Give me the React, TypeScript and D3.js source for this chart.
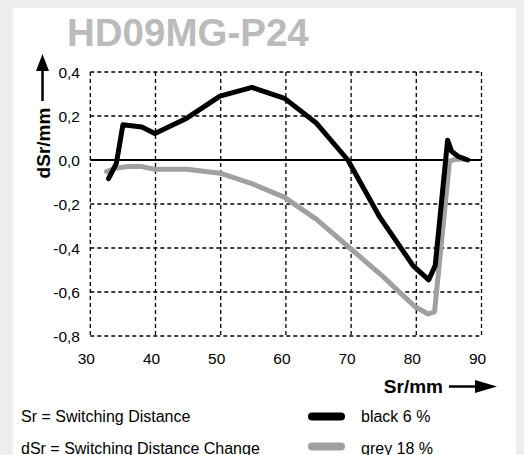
import React from "react";
import * as d3 from "d3";

const xTicks = [30, 40, 50, 60, 70, 80, 90];
const yTicks = [0.4, 0.2, 0.0, -0.2, -0.4, -0.6, -0.8];
const yTickLabels = ["0,4", "0,2", "0,0", "-0,2", "-0,4", "-0,6", "-0,8"];

const blackX = [32.8, 34.0, 35.0, 37.9, 39.9, 44.8, 49.9, 54.8, 59.8, 64.7, 69.5, 74.4, 79.5, 81.9, 82.9, 84.8, 85.4, 86.5, 87.9];
const blackY = [-0.085, -0.015, 0.16, 0.15, 0.12, 0.19, 0.29, 0.33, 0.28, 0.167, 0.0, -0.26, -0.48, -0.545, -0.48, 0.09, 0.04, 0.015, 0.0];

const greyX = [32.5, 33.8, 35.8, 37.9, 39.9, 44.8, 49.9, 55.0, 59.8, 64.7, 69.8, 74.9, 79.8, 81.8, 82.8, 85.1, 86.0, 87.5];
const greyY = [-0.053, -0.038, -0.03, -0.03, -0.042, -0.042, -0.06, -0.11, -0.17, -0.27, -0.4, -0.53, -0.667, -0.7, -0.69, -0.005, 0.003, 0.003];

const legendLeft = ["Sr = Switching Distance", "dSr = Switching Distance Change"];
const legendRight = ["black 6 %", "grey 18 %"];
const seriesColors = ["#000000", "#a0a0a0"];

const FONT = "'Liberation Sans', Arial, Helvetica, sans-serif";

export default function App() {
  const W = 524, H = 455;
  const x = d3.scaleLinear().domain([30, 90]).range([90.3, 481.5]);
  const y = d3.scaleLinear().domain([-0.8, 0.4]).range([336, 72]);

  const toPts = (xs: number[], ys: number[]) => xs.map((v, i) => [v, ys[i]] as [number, number]);
  const line = d3.line<[number, number]>().x(d => x(d[0])).y(d => y(d[1]));

  const series = [toPts(greyX, greyY), toPts(blackX, blackY)];
  const colors = [seriesColors[1], seriesColors[0]];

  const dash = "4,3";

  return (
    <svg width={W} height={H} style={{ position: "absolute", left: 0, top: 0 }} fontFamily={FONT}>
      <rect x={0} y={0} width={W} height={H} fill="#eeeeee" />
      <rect x={13} y={8} width={503} height={H - 8} fill="#ffffff" />
      <text x={67} y={46} fontSize={38.5} fontWeight="bold" fill="#bbbbbb">HD09MG-P24</text>

      {/* grid */}
      {xTicks.map(t => (
        <line key={"gx" + t} x1={x(t)} x2={x(t)} y1={y(0.4)} y2={y(-0.8)} stroke="#000" strokeWidth={1.3} strokeDasharray={dash} />
      ))}
      {yTicks.filter(t => Math.abs(t) > 1e-9).map(t => (
        <line key={"gy" + t} x1={x(30)} x2={x(90)} y1={y(t)} y2={y(t)} stroke="#000" strokeWidth={1.3} strokeDasharray={dash} />
      ))}
      <line x1={x(30)} x2={x(90)} y1={y(0)} y2={y(0)} stroke="#000" strokeWidth={2} />

      {/* tick labels */}
      {yTicks.map((t, i) => (
        <text key={"yl" + t} x={80} y={y(t) + 5.5} fontSize={15.5} textAnchor="end" fill="#000">{yTickLabels[i]}</text>
      ))}
      {xTicks.map(t => (
        <text key={"xl" + t} x={x(t) - 4} y={364} fontSize={15.5} textAnchor="middle" fill="#000">{t}</text>
      ))}

      {/* series */}
      {series.map((s, i) => (
        <path key={"s" + i} d={line(s) || ""} fill="none" stroke={colors[i]} strokeWidth={5} strokeLinejoin="round" strokeLinecap="round" />
      ))}

      {/* y axis title & arrow */}
      <text transform="translate(49.5,143) rotate(-90)" fontSize={19} fontWeight="bold" textAnchor="middle" fill="#000">dSr/mm</text>
      <line x1={42.5} x2={42.5} y1={101} y2={66} stroke="#000" strokeWidth={2.5} />
      <path d="M42.5,54 L49,71 L36,71 Z" fill="#000" />

      {/* x axis title & arrow */}
      <text x={443} y={393} fontSize={19} fontWeight="bold" textAnchor="end" fill="#000">Sr/mm</text>
      <line x1={449} x2={480} y1={386.5} y2={386.5} stroke="#000" strokeWidth={2.5} />
      <path d="M497,386.5 L475,380 L475,393 Z" fill="#000" />

      {/* legend */}
      {legendLeft.map((t, i) => (
        <text key={"ll" + i} x={21} y={422 + i * 32} fontSize={16} fill="#000">{t}</text>
      ))}
      {legendRight.map((t, i) => (
        <g key={"lr" + i}>
          <line x1={312} x2={341} y1={416.5 + i * 30} y2={416.5 + i * 30} stroke={seriesColors[i]} strokeWidth={8} strokeLinecap="round" />
          <text x={361} y={422 + i * 32} fontSize={16} fill="#000">{t}</text>
        </g>
      ))}
    </svg>
  );
}
